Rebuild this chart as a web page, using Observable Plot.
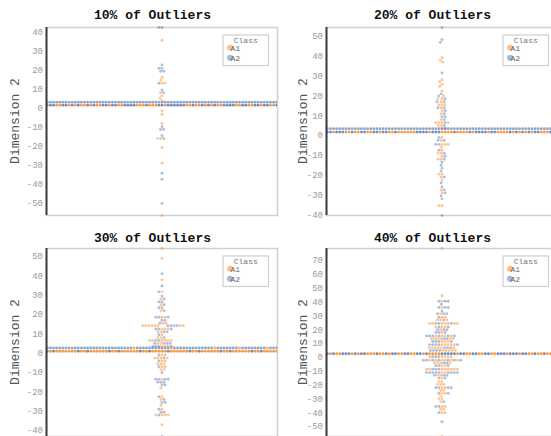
<!DOCTYPE html>
<html><head><meta charset="utf-8">
<script src="https://cdn.jsdelivr.net/npm/d3@7"></script>
<script src="https://cdn.jsdelivr.net/npm/@observablehq/plot@0.6"></script>
<style>
html,body{margin:0;padding:0;background:#fff;overflow:hidden;}
#wrap{position:relative;width:551px;height:436px;overflow:hidden;}
#wrap svg{position:absolute;}
</style></head>
<body><div id="wrap"></div>
<script>
// ---------- data ----------
const classes = ["A1", "A2"];
const classColors = ["#ff7f0e", "#4c72b0"];
const titles = ["10% of Outliers", "20% of Outliers", "30% of Outliers", "40% of Outliers"];
const yLabel = "Dimension 2";
const legendTitle = "Class";

const p1Ticks = [-50, -40, -30, -20, -10, 0, 10, 20, 30, 40];
const p2Ticks = [-40, -30, -20, -10, 0, 10, 20, 30, 40, 50];
const p3Ticks = [-40, -30, -20, -10, 0, 10, 20, 30, 40, 50];
const p4Ticks = [-50, -40, -30, -20, -10, 0, 10, 20, 30, 40, 50, 60, 70];

const p1Domain = [-56.5, 42.5];
const p2Domain = [-40.4, 54.5];
const p3Domain = [-43.1, 54.1];
const p4Domain = [-57.2, 78.7];

// inlier rows: [upper row value, lower row value]
const p1RowValues = [3.2, 1.6];
const p2RowValues = [3.4, 1.7];
const p3RowValues = [2.7, 1.0];
const p4RowValues = [2.6];

// classes of the dots in each inlier row (1 = A1, 2 = A2)
const p1Upper = "222222222222222222222222222222222222222222222222222222222222222222222222222222222222";
const p1Lower = "221211221222112112122211212112212121221211222121211212211212122121221211212212221121";
const p2Upper = "222222222222222222222222222222222222222222222222222222222222222222222222222222222222";
const p2Lower = "121122121211221121211122112212121121221112122112121221121212112122112121221121212211";
const p3Upper = "222222122222222221222222222222222212222222222222221222222222222222212222222222222222";
const p3Lower = "111211112111121111211112111121111211112111121111211112111121111211111211121111211111";
const p4Row   = "212211221212122121121221211212212112212212121122121221212112221121211212121212212121";

// outliers
const p1A1 = [35.8, 16.3, 14.8, 13.2, 13.2, 8.2, 6.6, 5.3, 4.0, -1.4, -3.2, -8.0, -16.0, -16.0, -20.7, -29.0, -56.5];
const p1A2 = [42.5, 42.5, 22.8, 21.0, 21.0, 19.5, 19.5, 13.2, 9.6, 8.2, -9.8, -11.2, -11.2, -14.5, -16.0, -34.2, -37.4, -50.2];

const p2A1 = [39.2, 37.9, 36.9, 28.1, 27.1, 25.8, 24.7, 22.5, 20.0, 18.5, 18.5, 17.0, 15.5, 15.5, 15.5, 14.0, 12.5, 11.0,
  8.0, 6.5, 6.5, 6.5, 6.5, 5.0, 5.0, 3.5, -1.0, -2.5, -4.5, -4.5, -4.5, -6.0, -7.5, -9.0, -9.0, -10.5, -12.0, -12.0,
  -19.5, -19.5, -21.0, -22.5, -27.5, -29.0, -35.5, -35.5];
const p2A2 = [54.5, 48.3, 47.0, 31.5, 21.0, 20.0, 18.5, 17.0, 17.0, 14.0, 14.0, 12.5, 11.0, 9.5, 9.5, 8.0, 6.5, 5.0, 3.5,
  -1.0, -2.5, -2.5, -4.5, -4.5, -7.5, -9.0, -10.5, -12.0, -13.5, -15.0, -16.5, -18.0, -21.0, -24.0, -26.0, -27.5,
  -29.0, -30.5, -32.0, -40.4];

const p3A1 = [54.1, 49.0, 38.0, 31.7, 28.0, 25.0, 22.0, 18.6, 18.6, 15.5, 15.5,
  14.2, 14.2, 14.2, 14.2, 14.2, 14.2, 14.2, 14.2, 12.5, 12.5, 12.5, 11.0, 11.0, 9.5, 8.0, 8.0,
  6.5, 6.5, 6.5, 6.5, 6.5, 6.5, 5.0, 5.0, 3.5, 3.5, 3.5,
  -1.0, -1.0, -2.5, -2.5, -2.5, -2.5, -4.0, -4.0, -5.5, -5.5, -5.5, -7.0, -7.0, -8.5, -8.5,
  -13.5, -18.0, -22.5, -24.0, -27.0, -29.0, -32.0, -32.0, -32.0, -32.0, -37.0];
const p3A2 = [41.0, 34.7, 31.7, 29.5, 28.0, 26.5, 26.5, 25.0, 23.5, 23.5, 22.0,
  18.6, 18.6, 18.6, 17.0, 17.0, 15.5, 14.2, 14.2, 14.2, 14.2, 12.5, 12.5, 12.5, 11.0, 11.0, 9.5, 8.0,
  6.5, 6.5, 5.0, 5.0, 5.0, 5.0, 3.5, 3.5, 3.5, 3.5,
  -1.0, -2.5, -4.0, -7.0, -10.0, -13.5, -13.5, -13.5, -13.5, -15.0, -15.0, -15.0, -16.5, -16.5,
  -22.5, -24.0, -25.5, -25.5, -29.0, -30.5, -30.5, -32.0, -43.1];

const p4A1 = [78.7, 44.5, 40.6, 36.0, 31.5, 29.0, 29.0, 27.0, 27.0, 27.0,
  24.5, 24.5, 24.5, 24.5, 24.5, 24.5, 24.5, 22.0, 22.0, 22.0, 20.0, 18.0,
  15.5, 15.5, 15.5, 15.5, 13.5, 13.5, 13.5, 13.5, 13.5, 13.5, 11.5, 11.5, 11.5,
  9.2, 9.2, 9.2, 9.2, 9.2, 7.0, 7.0, 7.0, 7.0, 7.0, 7.0, 5.0, 5.0, 5.0, 5.0, 5.0,
  0.5, 0.5, 0.5, 0.5, 0.5, -2.0, -2.0, -2.0, -2.0, -2.0, -2.0, -4.0, -4.0, -4.0, -4.0, -6.0, -6.0,
  -8.5, -8.5, -8.5, -8.5, -8.5, -8.5, -8.5, -8.5, -11.0, -11.0, -13.0, -13.0, -15.0,
  -17.5, -17.5, -19.5, -19.5, -19.5, -22.0, -22.0, -24.0, -24.0, -26.0, -26.0, -28.0,
  -30.0, -30.0, -32.0, -35.5, -35.5, -37.5, -37.5, -40.0, -40.0, -57.2];
const p4A2 = [40.6, 40.6, 40.6, 38.4, 36.0, 36.0, 36.0, 33.5, 31.5, 31.5, 31.5, 29.0, 27.0,
  24.5, 24.5, 24.5, 22.0, 22.0, 20.0, 20.0, 20.0, 18.0, 18.0, 18.0,
  15.5, 15.5, 15.5, 15.5, 15.5, 15.5, 13.5, 13.5, 11.5, 11.5, 11.5, 11.5,
  9.2, 9.2, 9.2, 9.2, 9.2, 7.0, 7.0, 7.0, 5.0, 5.0, 5.0, 5.0, 0.5, 0.5, 0.5,
  -2.0, -2.0, -2.0, -2.0, -2.0, -2.0, -2.0, -4.0, -4.0, -6.0, -6.0, -6.0, -8.5, -8.5, -8.5,
  -11.0, -11.0, -11.0, -11.0, -11.0, -11.0, -11.0, -11.0, -11.0, -13.0, -13.0, -13.0, -15.0, -15.0,
  -22.0, -22.0, -22.0, -22.0, -26.0, -26.0, -32.0, -35.5, -35.5, -40.0, -46.5];

// ---------- build ----------
const panels = [
  {title: titles[0], left: 0,   top: 0,   titleY: 19,   labelX: 19.3, domain: p1Domain, ticks: p1Ticks, rowValues: p1RowValues, rows: [p1Upper, p1Lower], a1: p1A1, a2: p1A2},
  {title: titles[1], left: 280, top: 0,   titleY: 19,   labelX: 27.3, domain: p2Domain, ticks: p2Ticks, rowValues: p2RowValues, rows: [p2Upper, p2Lower], a1: p2A1, a2: p2A2},
  {title: titles[2], left: 0,   top: 221, titleY: 21.3, labelX: 19.3, domain: p3Domain, ticks: p3Ticks, rowValues: p3RowValues, rows: [p3Upper, p3Lower], a1: p3A1, a2: p3A2},
  {title: titles[3], left: 280, top: 221, titleY: 21.3, labelX: 27.3, domain: p4Domain, ticks: p4Ticks, rowValues: p4RowValues, rows: [p4Row], a1: p4A1, a2: p4A2}
];

function outlierTable(a1, a2) {
  const recs = [];
  [[classes[0], a1], [classes[1], a2]].forEach(([cls, arr]) => {
    const seen = new Map();
    for (const v of arr) {
      const k = seen.get(v) || 0;
      seen.set(v, k + 1);
      recs.push({value: v, cls, k});
    }
  });
  return recs.sort((a, b) => (b.value - a.value) || (a.k - b.k) || (a.cls < b.cls ? -1 : 1));
}

function rowTable(value, pattern) {
  return Array.from(pattern, (ch) => ({value, cls: classes[+ch - 1]}));
}

const mL = 46, mR = 4, mT = 27, mB = 6, fw = 231, fh = 188;
const wrap = document.getElementById("wrap");
const mono = "'Liberation Mono', 'Courier New', monospace";

for (const p of panels) {
  const rowMarks = p.rows.map((pat, i) => Plot.dot(rowTable(p.rowValues[i], pat),
    Plot.dodgeX({anchor: "middle", padding: 0.2}, {
      y: "value", r: 1.45, fill: "cls", fillOpacity: (p.rows.length === 2 && i === 0) ? 0.62 : 0.8, clip: true
    })));
  const svg = Plot.plot({
    width: mL + fw + mR,
    height: mT + fh + mB,
    marginLeft: mL, marginRight: mR, marginTop: mT, marginBottom: mB,
    style: {background: "transparent", fontFamily: mono, fontSize: "9px", color: "#9a9a9a", overflow: "visible"},
    x: {domain: [0, 1], axis: null},
    y: {domain: p.domain, ticks: p.ticks, tickSize: 0, tickPadding: 3.5, tickFormat: (d) => String(d), label: null},
    color: {domain: classes, range: classColors},
    marks: [
      Plot.frame({stroke: "#d0d0d0", strokeWidth: 1.5}),
      ...rowMarks,
      Plot.dot(outlierTable(p.a1, p.a2), Plot.dodgeX({anchor: "middle", padding: 0.2}, {
        y: "value", r: 1.45, fill: "cls", fillOpacity: 0.45
      })),
      Plot.ruleX([0], {stroke: "#3c3c3c", strokeWidth: 2})
    ]
  });
  svg.style.left = p.left + "px";
  svg.style.top = p.top + "px";
  const s = d3.select(svg);
  // title
  s.append("text").attr("x", 152.5).attr("y", p.titleY).attr("text-anchor", "middle")
    .attr("font-family", mono).attr("font-weight", "bold").attr("font-size", 13).attr("fill", "#111")
    .text(p.title);
  // y label
  s.append("text").attr("transform", `translate(${p.labelX},${mT + fh / 2}) rotate(-90)`)
    .attr("text-anchor", "middle").attr("font-family", mono).attr("font-size", 13).attr("fill", "#555")
    .text(yLabel);
  // legend
  const g = s.append("g").attr("transform", `translate(${mL + fw - 54},${mT + 8})`);
  g.append("rect").attr("width", 45.5).attr("height", 30.5).attr("fill", "#fff").attr("stroke", "#cfcfcf").attr("stroke-width", 1.2);
  g.append("text").attr("x", 22.75).attr("y", 7.8).attr("text-anchor", "middle").attr("font-family", mono)
    .attr("font-size", 8).attr("fill", "#777").text(legendTitle);
  classes.forEach((c, i) => {
    g.append("circle").attr("cx", 7).attr("cy", 12.8 + 10 * i).attr("r", 3)
      .attr("fill", classColors[i]).attr("fill-opacity", 0.5);
    g.append("text").attr("x", 12.3).attr("y", 12.8 + 10 * i).attr("dy", "0.35em").attr("font-family", mono)
      .attr("font-size", 8).attr("fill", "#666").text(c);
  });
  wrap.appendChild(svg);
}
</script>
</body></html>
